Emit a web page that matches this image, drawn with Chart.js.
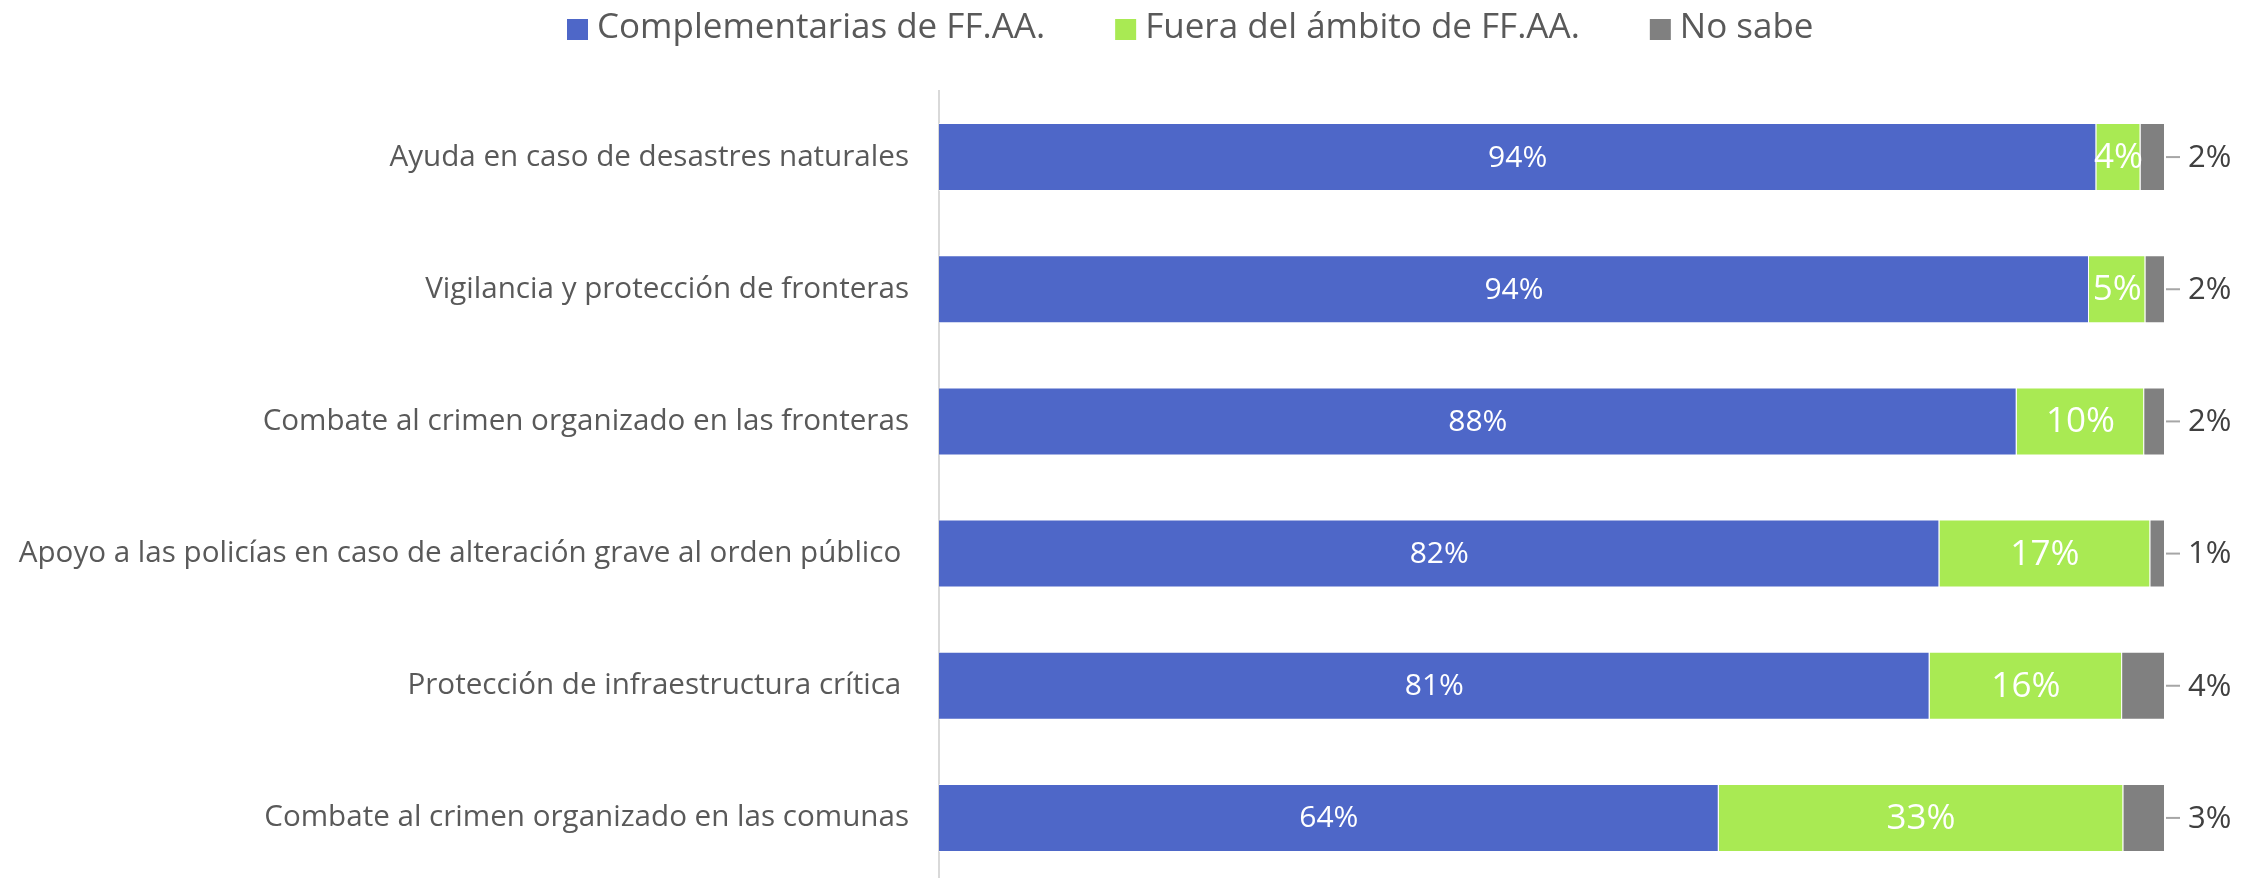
<!DOCTYPE html>
<html>
<head>
<meta charset="utf-8">
<script src="https://cdn.jsdelivr.net/npm/chart.js@4/dist/chart.umd.min.js"></script>
<style>
    html, body { margin: 0; padding: 0; background: #fff; overflow: hidden; }
    canvas { display: block; }
</style>
</head>
<body>
<canvas id="chart" width="2258" height="884"></canvas>
<script>
const categories = [
    'Ayuda en caso de desastres naturales',
    'Vigilancia y protección de fronteras',
    'Combate al crimen organizado en las fronteras',
    'Apoyo a las policías en caso de alteración grave al orden público ',
    'Protección de infraestructura crítica ',
    'Combate al crimen organizado en las comunas'
];
const complementarias = [94.4, 93.8, 87.9, 81.6, 80.8, 63.6];
const fueraAmbito = [3.6, 4.6, 10.4, 17.2, 15.7, 33.0];
const noSabe = [2.0, 1.6, 1.7, 1.2, 3.5, 3.4];

const seriesNames = ['Complementarias de FF.AA.', 'Fuera del ámbito de FF.AA.', 'No sabe'];
const seriesColors = ['#4E67C8', '#A9EA53', '#808080'];

const FONT = '"Open Sans", Roboto, "Liberation Sans", Arial, sans-serif';

// legend drawn on top of the canvas (Excel style, wide gaps)
const topLegend = {
    id: 'topLegend',
    afterDraw(chart) {
        const ctx = chart.ctx;
        ctx.save();
        ctx.font = '35px ' + FONT;
        ctx.textBaseline = 'middle';
        let x = 567;
        const y = 28;
        seriesNames.forEach((name, i) => {
            ctx.fillStyle = seriesColors[i];
            ctx.fillRect(x, y - 9, 21, 21);
            x += 30;
            ctx.fillStyle = '#595959';
            ctx.fillText(name, x, y);
            x += ctx.measureText(name).width + 70;
        });
        ctx.restore();
    }
};

// value labels: inside for the first two series, outside with leader for the last
const valueLabels = {
    id: 'valueLabels',
    afterDatasetsDraw(chart) {
        const ctx = chart.ctx;
        ctx.save();
        ctx.textBaseline = 'middle';
        chart.data.datasets.forEach((ds, di) => {
            const meta = chart.getDatasetMeta(di);
            meta.data.forEach((bar, i) => {
                const text = Math.round(ds.data[i]) + '%';
                if (di < 2) {
                    ctx.font = (di === 0 ? '30px ' : '35px ') + FONT;
                    ctx.fillStyle = '#ffffff';
                    ctx.textAlign = 'center';
                    ctx.fillText(text, (bar.x + bar.base) / 2, bar.y + 1);
                } else {
                    ctx.strokeStyle = '#a6a6a6';
                    ctx.lineWidth = 2;
                    ctx.beginPath();
                    ctx.moveTo(bar.x + 1, bar.y);
                    ctx.lineTo(bar.x + 15, bar.y);
                    ctx.stroke();
                    ctx.font = '31px ' + FONT;
                    ctx.fillStyle = '#404040';
                    ctx.textAlign = 'left';
                    ctx.fillText(text, bar.x + 23, bar.y + 1);
                }
            });
        });
        ctx.restore();
    }
};

new Chart(document.getElementById('chart'), {
    type: 'bar',
    data: {
        labels: categories,
        datasets: [complementarias, fueraAmbito, noSabe].map((values, i) => ({
            label: seriesNames[i],
            data: values,
            backgroundColor: seriesColors[i],
            borderColor: 'rgba(255,255,255,0.7)',
            borderWidth: 1,
            barPercentage: 0.515,
            categoryPercentage: 1
        }))
    },
    options: {
        indexAxis: 'y',
        responsive: false,
        animation: false,
        layout: { padding: { top: 91, right: 93, bottom: 0, left: 0 } },
        plugins: {
            legend: { display: false },
            tooltip: { enabled: false }
        },
        scales: {
            x: {
                stacked: true,
                min: 0,
                max: 100,
                display: false
            },
            y: {
                stacked: true,
                grid: { display: false, drawTicks: false },
                border: { display: true, color: '#d9d9d9', width: 2 },
                ticks: {
                    color: '#595959',
                    font: { family: FONT, size: 29.6 },
                    padding: 30
                },
                afterFit(scale) {
                    scale.width = 939;
                    scale.paddingTop = 0;
                    scale.paddingBottom = 0;
                }
            }
        }
    },
    plugins: [topLegend, valueLabels]
});
</script>
</body>
</html>
